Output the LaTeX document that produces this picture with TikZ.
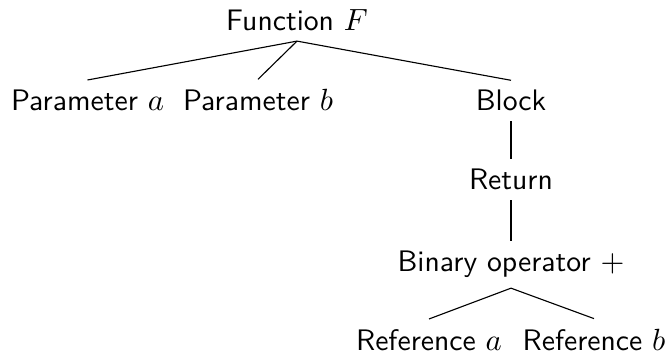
\documentclass[tikz,border=0pt]{standalone}
\begin{document}
\begin{tikzpicture}[x=0.357pt,y=-0.357pt,
  lbl/.style={anchor=base,font=\fontsize{10.6}{12.7}\selectfont\sffamily,inner sep=3.4pt},
  edge/.style={line width=0.4pt}]
\useasboundingbox (0,0) rectangle (665,354);
\node[lbl] (f) at (297,30.7) {Function $F$};
\node[lbl] (pa) at (87.5,110.7) {Parameter $a$};
\node[lbl] (pb) at (258,110.7) {Parameter $b$};
\node[lbl] (blk) at (511,111) {Block};
\node[lbl] (ret) at (511,190) {Return};
\node[lbl] (bin) at (511,272) {Binary operator $+$};
\node[lbl] (ra) at (429,350) {Reference $a$};
\node[lbl] (rb) at (594,350) {Reference $b$};
\draw[edge] (f.south) -- (pa.north);
\draw[edge] (f.south) -- (pb.north);
\draw[edge] (f.south) -- (blk.north);
\draw[edge] (blk.south) -- (ret.north);
\draw[edge] (ret.south) -- (bin.north);
\draw[edge] (bin.south) -- (ra.north);
\draw[edge] (bin.south) -- (rb.north);
\end{tikzpicture}
\end{document}
